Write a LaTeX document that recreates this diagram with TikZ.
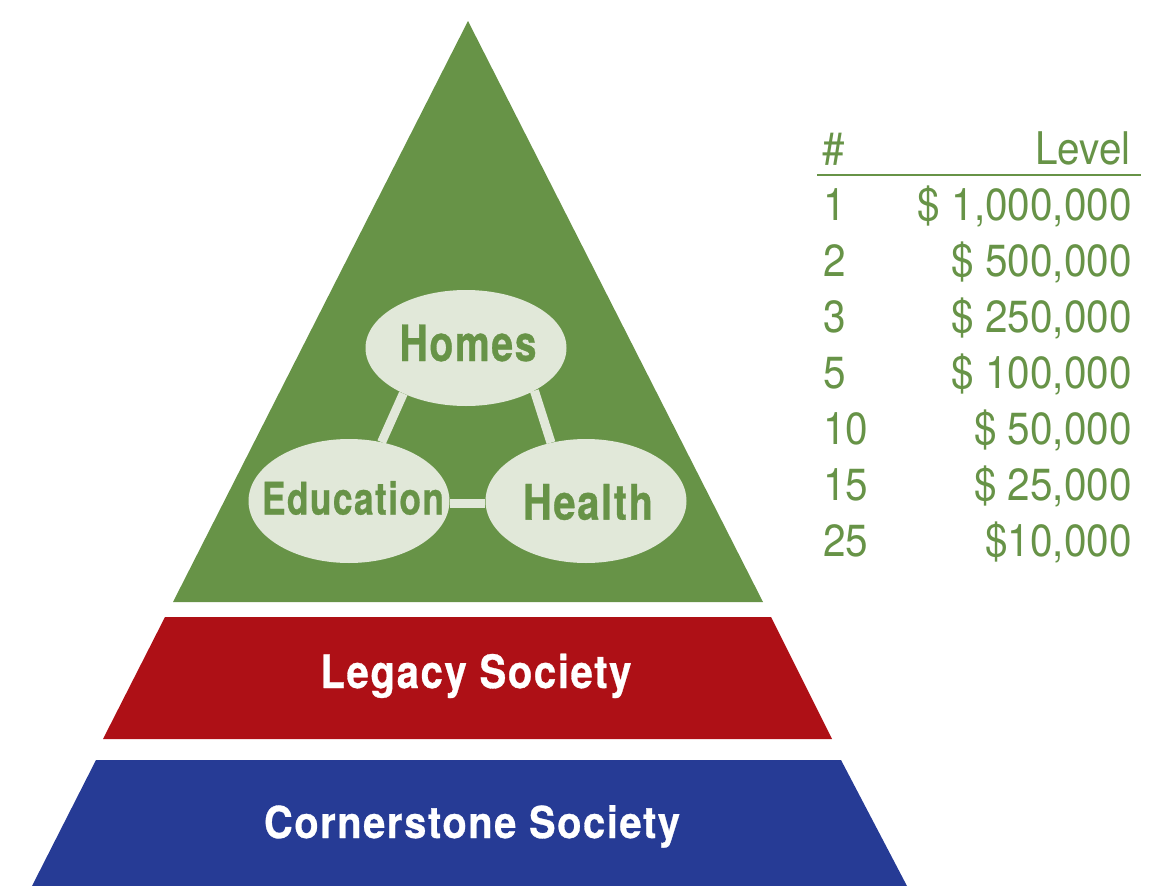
\documentclass[tikz,border=0pt]{standalone}
\usepackage{fontspec}
\usepackage{graphicx}
\setmainfont{TeX Gyre Heros}
\newfontfamily\condreg[FakeStretch=0.9]{TeX Gyre Heros}
\newfontfamily\heavy[FakeBold=0.7,LetterSpace=4]{TeX Gyre Heros Bold}
\usetikzlibrary{shapes.geometric}
\definecolor{pgreen}{HTML}{679347}
\definecolor{plight}{HTML}{E1E8D9}
\definecolor{pred}{HTML}{AE1016}
\definecolor{pblue}{HTML}{263B95}
\newcommand\fitto[2]{\resizebox{#1}{\height}{#2}}
\tikzset{
  bubble/.style={ellipse, fill=plight, inner sep=0pt, minimum width=201pt},
  bubbletext/.style={inner sep=0pt, text=pgreen, font=\heavy\fontsize{50}{58}\selectfont},
  link/.style={draw=plight, line width=9pt},
  layerlabel/.style={anchor=base, text=white, inner sep=0pt, font=\heavy\fontsize{46}{54}\selectfont},
  tabtext/.style={inner sep=0pt, text=pgreen, font=\condreg\fontsize{45}{54}\selectfont},
  numcell/.style={tabtext, anchor=base west},
  levcell/.style={tabtext, anchor=base east}
}
\begin{document}
\begin{tikzpicture}[x=1pt,y=-1pt]
\path[use as bounding box] (0,0) rectangle (1173,886);
% pyramid layers
\coordinate (apex) at (468,21);
\coordinate (gL) at (173,602);
\coordinate (gR) at (763,602);
\fill[pgreen] (apex) -- (gR) -- (gL) -- cycle;
\coordinate (rTL) at (165,617);
\coordinate (rTR) at (771,617);
\coordinate (rBR) at (832,739);
\coordinate (rBL) at (103,739);
\fill[pred] (rTL) -- (rTR) -- (rBR) -- (rBL) -- cycle;
\coordinate (bTL) at (96,760);
\coordinate (bTR) at (841,760);
\coordinate (bBR) at (907,886);
\coordinate (bBL) at (32,886);
\fill[pblue] (bTL) -- (bTR) -- (bBR) -- (bBL) -- cycle;
% bubbles
\node[bubble, minimum height=116pt] (homes) at (466,348) {};
\node[bubble, minimum height=124pt] (edu) at (349,501) {};
\node[bubble, minimum height=124pt] (health) at (586,501) {};
% links
\draw[link] (homes.216) -- (edu.61);
\draw[link] (homes.-32) -- (health.121);
\draw[link] ([yshift=-2pt]edu.east) -- ([yshift=-2pt]health.west);
% bubble texts
\node[bubbletext] (homesT) at (468,343) {\fitto{137pt}{Homes}};
\node[bubbletext, font=\heavy\fontsize{45}{52}\selectfont] (eduT) at (353,498) {\fitto{182pt}{Education}};
\node[bubbletext, font=\heavy\fontsize{49}{56}\selectfont] (healthT) at (588,502) {\fitto{130pt}{Health}};
% layer labels
\node[layerlabel] (legacy) at (476,688) {\fitto{311pt}{Legacy Society}};
\node[layerlabel, font=\heavy\fontsize{44}{52}\selectfont] (corner) at (472,838) {\fitto{416pt}{Cornerstone Society}};
% table
\node[numcell] (hnum) at (822,164) {\#};
\node[levcell] (hlev) at (1131,164) {Level};
\coordinate (ruleL) at (817,175);
\coordinate (ruleR) at (1141,175);
\draw[pgreen, line width=2.5pt] (ruleL) -- (ruleR);
\node[numcell] (n1) at (823,220) {1};
\node[levcell] (l1) at (1132,220) {\$ 1,000,000};
\node[numcell] (n2) at (823,276) {2};
\node[levcell] (l2) at (1132,276) {\$ 500,000};
\node[numcell] (n3) at (823,332) {3};
\node[levcell] (l3) at (1132,332) {\$ 250,000};
\node[numcell] (n4) at (823,388) {5};
\node[levcell] (l4) at (1132,388) {\$ 100,000};
\node[numcell] (n5) at (823,444) {10};
\node[levcell] (l5) at (1132,444) {\$ 50,000};
\node[numcell] (n6) at (823,500) {15};
\node[levcell] (l6) at (1132,500) {\$ 25,000};
\node[numcell] (n7) at (823,556) {25};
\node[levcell] (l7) at (1132,556) {\$10,000};
\end{tikzpicture}
\end{document}
